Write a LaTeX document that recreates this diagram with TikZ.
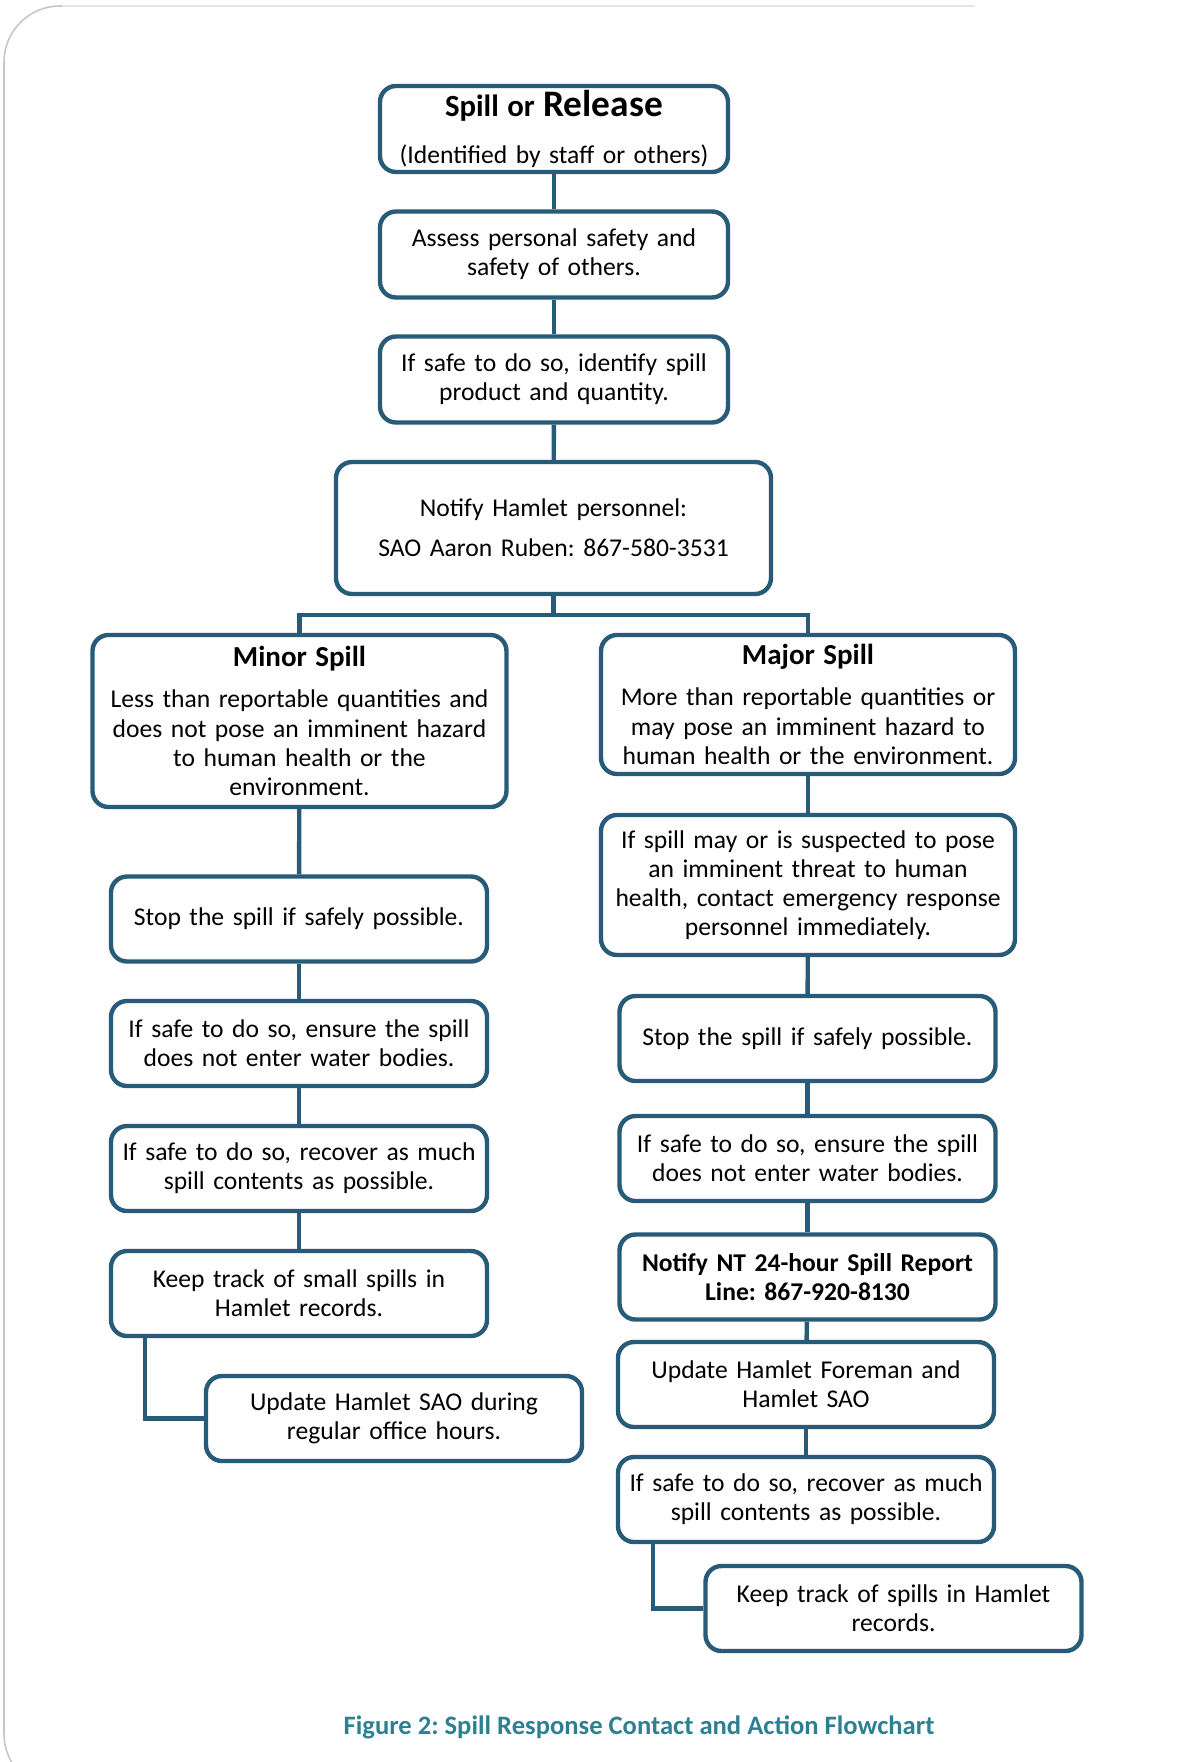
\documentclass[tikz,border=0pt]{standalone}
\usepackage{fontspec}
\setmainfont{Carlito}
\usepackage{xcolor}
\usepackage{tikz}
\usetikzlibrary{calc}
\frenchspacing

\definecolor{boxblue}{HTML}{275B78}
\definecolor{captionteal}{HTML}{2F7F93}

\tikzset{
  flowbox/.style={draw=boxblue, line width=2.2pt, rounded corners=8pt, fill=white,
    align=center, inner xsep=3pt, inner ysep=2pt, font=\fontsize{12.8}{14.6}\selectfont},
  topbox/.style={flowbox, text width=168pt, minimum height=43pt},
  spillbox/.style={flowbox, text width=201pt},
  stepbox/.style={flowbox, text width=182pt, minimum height=42.5pt},
  link/.style={draw=boxblue, line width=2.2pt},
  cardline/.style={draw=black!22, line width=0.8pt, rounded corners=28pt}
}

\begin{document}
\begin{tikzpicture}[x=0.5pt, y=-0.5pt]
\useasboundingbox (0,0) rectangle (1204,1762);
\draw[cardline] (62,6) -- (4,6) -- (4,1790) -- (120,1790);
\draw[draw=black!10, line width=0.8pt] (62,6) -- (975,6);

% top of the chart
\node[topbox] (spill) at (554,129) {{\fontsize{15.4}{17}\selectfont\bfseries Spill or {\fontsize{18.7}{19}\selectfont Release}}\\[9pt](Identified by staff or others)};
\node[topbox] (assess) at (554,254.5) {Assess personal safety and\\safety of others.};
\node[topbox] (identify) at (554,379.5) {If safe to do so, identify spill\\product and quantity.};
\node[flowbox, text width=211.5pt, minimum height=66pt] (hamlet) at (553.5,528) {Notify Hamlet personnel:\\[5.5pt]SAO Aaron Ruben: 867-580-3531};

% the two kinds of spill
\node[spillbox, minimum height=86pt] (minor) at (299.5,721) {{\fontsize{14.5}{16}\selectfont\bfseries Minor Spill}\\[6pt]Less than reportable quantities and\\does not pose an imminent hazard\\to human health or the\\environment.};
\node[spillbox, minimum height=69.5pt] (major) at (808,704.5) {{\fontsize{14.5}{16}\selectfont\bfseries Major Spill}\\[6pt]More than reportable quantities or\\may pose an imminent hazard to\\human health or the environment.};

% minor spill steps
\node[stepbox] (stopL) at (299,919) {Stop the spill if safely possible.};
\node[stepbox] (ensureL) at (299,1043.5) {If safe to do so, ensure the spill\\does not enter water bodies.};
\node[stepbox] (recoverL) at (299,1168.5) {If safe to do so, recover as much\\spill contents as possible.};
\node[stepbox] (keepL) at (299,1293.5) {Keep track of small spills in\\Hamlet records.};
\node[stepbox] (saoL) at (394,1418.5) {Update Hamlet SAO during\\regular office hours.};

% major spill steps
\node[spillbox, minimum height=70pt] (emerg) at (808,885) {If spill may or is suspected to pose\\an imminent threat to human\\health, contact emergency response\\personnel immediately.};
\node[stepbox] (stopR) at (807.5,1038.5) {Stop the spill if safely possible.};
\node[stepbox] (ensureR) at (807.5,1158.5) {If safe to do so, ensure the spill\\does not enter water bodies.};
\node[stepbox, font=\fontsize{12.8}{14.6}\selectfont\bfseries] (reportR) at (807.5,1277) {Notify NT 24-hour Spill Report\\Line: 867-920-8130};
\node[stepbox] (foremanR) at (806,1384.5) {Update Hamlet Foreman and\\Hamlet SAO};
\node[stepbox] (recoverR) at (806,1499.5) {If safe to do so, recover as much\\spill contents as possible.};
\node[stepbox] (keepR) at (893.5,1608.5) {Keep track of spills in Hamlet\\records.};

\node[font=\fontsize{13.3}{15}\selectfont\bfseries, text=captionteal] (caption) at (639,1727) {Figure 2: Spill Response Contact and Action Flowchart};

% connectors
\coordinate (split) at (553.5,615);
\draw[link] (spill) -- (assess);
\draw[link] (assess) -- (identify);
\draw[link] (identify) -- (hamlet);
\draw[link] (hamlet) -- (split);
\draw[link] (split) -| (minor);
\draw[link] (split) -| (major);
\draw[link] (minor) -- (stopL);
\draw[link] (stopL) -- (ensureL);
\draw[link] (ensureL) -- (recoverL);
\draw[link] (recoverL) -- (keepL);
\draw[link] ($(keepL.south west)+(36,0)$) |- (saoL);
\draw[link] (major) -- (emerg);
\draw[link] (emerg) -- (stopR);
\draw[link] (stopR) -- (ensureR);
\draw[link] (ensureR) -- (reportR);
\draw[link] (reportR) -- (foremanR);
\draw[link] (foremanR) -- (recoverR);
\draw[link] ($(recoverR.south west)+(37,0)$) |- (keepR);
\end{tikzpicture}
\end{document}
